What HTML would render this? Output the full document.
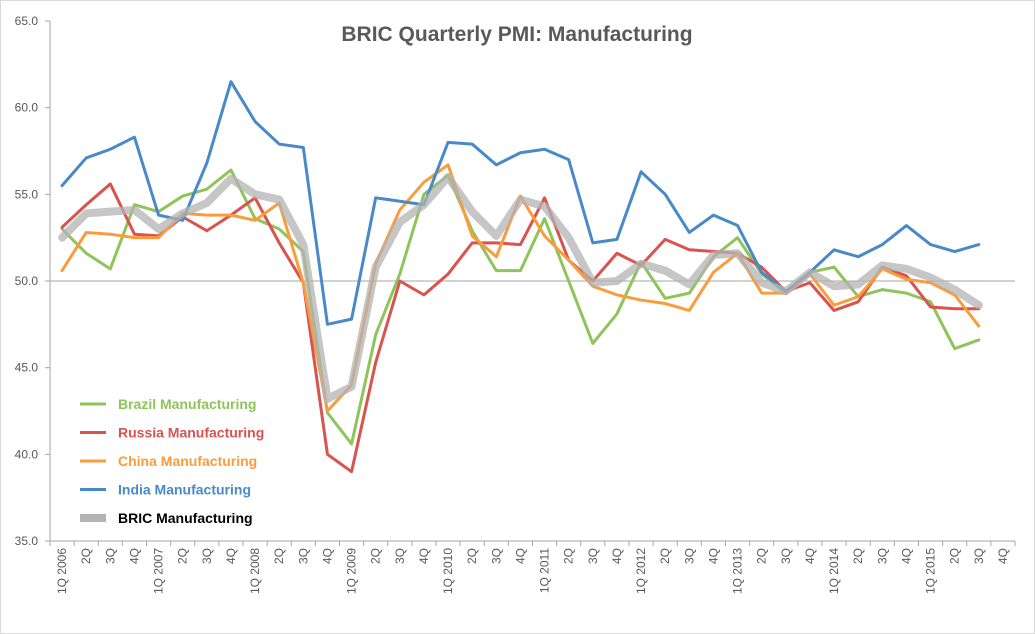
<!DOCTYPE html>
<html><head><meta charset="utf-8"><style>
body{margin:0;background:#fff;}
svg{display:block;font-family:"Liberation Sans",sans-serif;}
</style></head><body>
<svg id="chart" width="1035" height="634">
<rect x="0.5" y="0.5" width="1034" height="633" fill="#fff" stroke="#d9d9d9"/>
<text x="517" y="41" text-anchor="middle" font-size="21" font-weight="bold" fill="#595959">BRIC Quarterly PMI: Manufacturing</text>
<g id="axes"></g><g id="series"></g><g id="legend"></g>
</svg>
<script>
const years=[2006,2007,2008,2009,2010,2011,2012,2013,2014,2015];
const yTicks=[35,40,45,50,55,60,65];
const brazil=[53.0,51.6,50.7,54.4,54.0,54.9,55.3,56.4,53.6,53.0,51.7,42.4,40.6,46.9,50.4,55.0,56.1,52.9,50.6,50.6,53.6,50.0,46.4,48.1,51.1,49.0,49.3,51.4,52.5,50.4,49.3,50.5,50.8,49.1,49.5,49.3,48.8,46.1,46.6];
const russia=[53.1,54.4,55.6,52.7,52.6,53.7,52.9,53.8,54.8,52.2,49.9,40.0,39.0,45.3,50.0,49.2,50.4,52.2,52.2,52.1,54.8,51.2,50.0,51.6,50.9,52.4,51.8,51.7,51.6,50.8,49.4,49.9,48.3,48.8,50.8,50.3,48.5,48.4,48.4];
const china=[50.6,52.8,52.7,52.5,52.5,53.9,53.8,53.8,53.5,54.5,49.9,42.5,44.0,51.0,54.1,55.7,56.7,52.6,51.4,54.9,52.6,51.2,49.7,49.2,48.9,48.7,48.3,50.5,51.6,49.3,49.3,50.4,48.6,49.1,50.7,50.1,49.9,49.2,47.4];
const india=[55.5,57.1,57.6,58.3,53.8,53.5,56.8,61.5,59.2,57.9,57.7,47.5,47.8,54.8,54.6,54.4,58.0,57.9,56.7,57.4,57.6,57.0,52.2,52.4,56.3,55.0,52.8,53.8,53.2,50.5,49.4,50.5,51.8,51.4,52.1,53.2,52.1,51.7,52.1];
const bric=[52.5,53.9,54.0,54.1,53.0,53.9,54.5,55.9,55.0,54.7,52.1,43.2,43.9,50.8,53.4,54.4,56.0,54.0,52.6,54.7,54.3,52.5,49.9,50.0,51.0,50.6,49.8,51.5,51.6,49.9,49.4,50.5,49.7,49.8,50.9,50.7,50.2,49.5,48.6];
const NS="http://www.w3.org/2000/svg";
const L=50,R=1015,T=21,B=541,N=40,cw=(R-L)/N;
const xS=i=>L+cw*(i+0.5);
const yS=v=>B-(v-35)/30*(B-T);
function mk(tag,at,parent){const e=document.createElementNS(NS,tag);for(const k in at)e.setAttribute(k,at[k]);parent.appendChild(e);return e;}
const ax=document.getElementById('axes');
let e=mk('line',{x1:L,y1:T,x2:L,y2:B,stroke:'#a6a6a6'},ax);


e=mk('line',{x1:L,y1:B,x2:R,y2:B,stroke:'#a6a6a6'},ax);


e=mk('line',{x1:L,y1:yS(50),x2:R,y2:yS(50),stroke:'#a6a6a6'},ax);


yTicks.forEach(v=>{
 mk('line',{x1:L-5,y1:yS(v),x2:L,y2:yS(v),stroke:'#a6a6a6'},ax);
 const t=mk('text',{x:L-12,y:yS(v)+4,'text-anchor':'end','font-size':12,fill:'#595959'},ax);
 t.textContent=v.toFixed(1);
 
 
});
for(let i=0;i<=N;i++)mk('line',{x1:L+cw*i,y1:B,x2:L+cw*i,y2:B+5,stroke:'#a6a6a6'},ax);
for(let i=0;i<N;i++){
 const q=i%4;const lab=q===0?('1Q '+years[i/4]):((q+1)+'Q');
 const t=mk('text',{x:0,y:0,'text-anchor':'end','font-size':12,fill:'#595959',transform:`translate(${xS(i)+4},${B+7}) rotate(-90)`},ax);
 t.textContent=lab;
 
 
}
const sg=document.getElementById('series');
const defs=[['bric',bric,'#b3b3b3',8,'BRIC Manufacturing','#000'],['brazil',brazil,'#8fc45a',3,'Brazil Manufacturing','#8fc45a'],['russia',russia,'#d9534f',3,'Russia Manufacturing','#d9534f'],['china',china,'#fb9c3c',3,'China Manufacturing','#fb9c3c'],['india',india,'#4a89c8',3,'India Manufacturing','#4a89c8']];
[1,2,3,4,0].forEach(k=>{
 const d=defs[k];
 const p=mk('polyline',{points:d[1].map((v,i)=>xS(i)+','+yS(v)).join(' '),fill:'none',stroke:d[2],'stroke-width':d[3],'stroke-linejoin':'round','stroke-linecap':'round',opacity:d[0]==='bric'?0.75:1},sg);
 
 
});
const lg=document.getElementById('legend');
const order=[1,2,3,4,0];
order.forEach((k,j)=>{
 const d=defs[k];const y=404+j*28.5;
 const g=mk('g',{},lg);
 
 
 mk('line',{x1:80,y1:y,x2:106,y2:y,stroke:d[2],'stroke-width':d[3]},g);
 const t=mk('text',{x:118,y:y+5,'font-size':14,'font-weight':'bold',fill:d[5]},g);
 t.textContent=d[4];
});
</script>
</body></html>
